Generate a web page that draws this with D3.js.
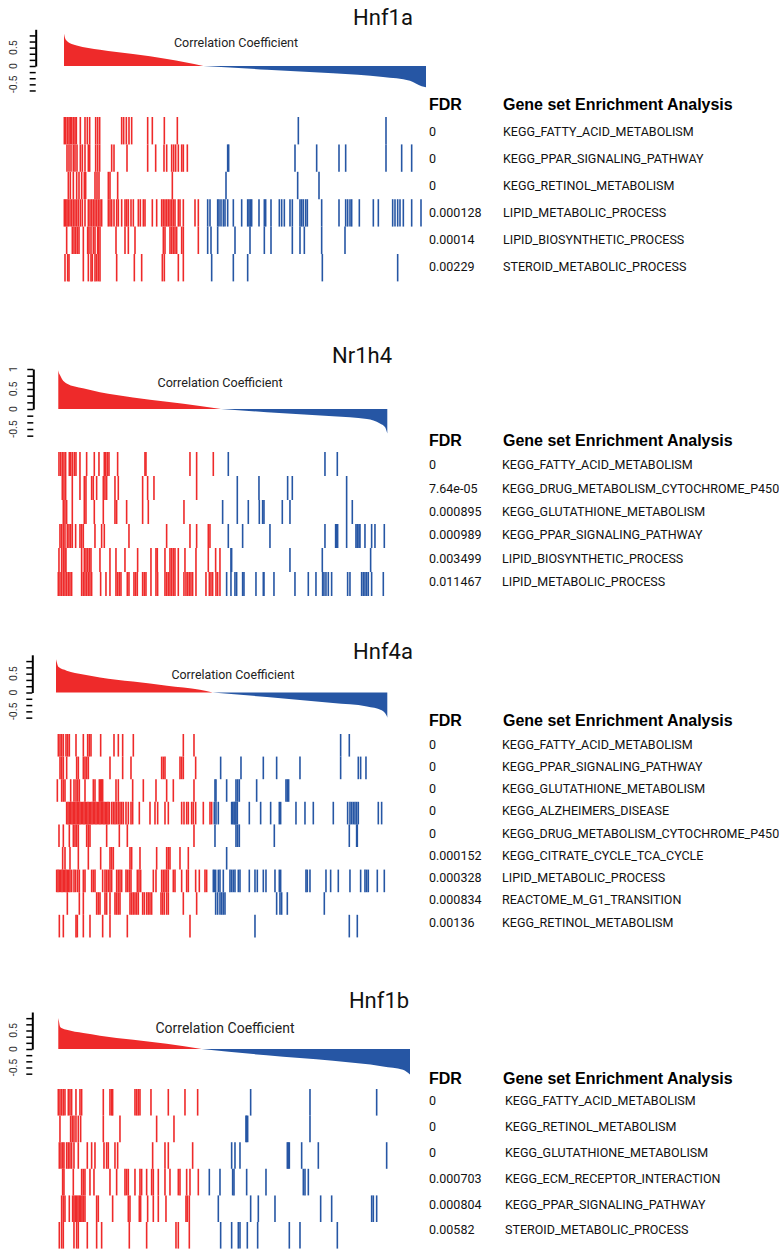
<!DOCTYPE html>
<html>
<head>
<meta charset="utf-8">
<script src="https://cdn.jsdelivr.net/npm/d3@7"></script>
<style>
  body { margin:0; background:#fff; }
  svg { display:block; }
</style>
</head>
<body>
<div id="chart"></div>
<script>
/* ---- data: ranked correlation curve [rank, coefficient] ---- */
const hnf1aCurve = [[0,0.88],[2,0.8],[4,0.74],[8,0.69],[18,0.62],[38,0.56],[108,0.44],[207,0.325],[309,0.19],[363,0.1],[418,0],[498,-0.04],[609,-0.1],[807,-0.2],[957,-0.3],[1038,-0.4],[1073,-0.55],[1086,-0.58]];
const nr1h4Curve = [[0,0.97],[2,0.9],[5,0.85],[11,0.75],[25,0.64],[74,0.52],[125,0.42],[224,0.29],[326,0.18],[425,0.075],[488,0],[626,-0.08],[824,-0.18],[926,-0.25],[965,-0.36],[980,-0.45],[987,-0.61]];
const hnf4aCurve = [[0,0.88],[3,0.78],[7,0.68],[32,0.58],[82,0.48],[132,0.4],[231,0.29],[333,0.18],[432,0.07],[470,0],[633,-0.12],[831,-0.28],[933,-0.37],[977,-0.47],[992,-0.62],[994,-0.67]];
const hnf1bCurve = [[0,0.84],[2,0.75],[5,0.61],[11,0.56],[25,0.52],[75,0.43],[125,0.36],[225,0.25],[325,0.14],[430,0],[625,-0.17],[824,-0.32],[974,-0.47],[1034,-0.56],[1055,-0.69]];

/* ---- gene sets and FDR ---- */
const hnf1aSets = ["KEGG_FATTY_ACID_METABOLISM","KEGG_PPAR_SIGNALING_PATHWAY","KEGG_RETINOL_METABOLISM","LIPID_METABOLIC_PROCESS","LIPID_BIOSYNTHETIC_PROCESS","STEROID_METABOLIC_PROCESS"];
const hnf1aFdr = ["0","0","0","0.000128","0.00014","0.00229"];
const nr1h4Sets = ["KEGG_FATTY_ACID_METABOLISM","KEGG_DRUG_METABOLISM_CYTOCHROME_P450","KEGG_GLUTATHIONE_METABOLISM","KEGG_PPAR_SIGNALING_PATHWAY","LIPID_BIOSYNTHETIC_PROCESS","LIPID_METABOLIC_PROCESS"];
const nr1h4Fdr = ["0","7.64e-05","0.000895","0.000989","0.003499","0.011467"];
const hnf4aSets = ["KEGG_FATTY_ACID_METABOLISM","KEGG_PPAR_SIGNALING_PATHWAY","KEGG_GLUTATHIONE_METABOLISM","KEGG_ALZHEIMERS_DISEASE","KEGG_DRUG_METABOLISM_CYTOCHROME_P450","KEGG_CITRATE_CYCLE_TCA_CYCLE","LIPID_METABOLIC_PROCESS","REACTOME_M_G1_TRANSITION","KEGG_RETINOL_METABOLISM"];
const hnf4aFdr = ["0","0","0","0","0","0.000152","0.000328","0.000834","0.00136"];
const hnf1bSets = ["KEGG_FATTY_ACID_METABOLISM","KEGG_RETINOL_METABOLISM","KEGG_GLUTATHIONE_METABOLISM","KEGG_ECM_RECEPTOR_INTERACTION","KEGG_PPAR_SIGNALING_PATHWAY","STEROID_METABOLIC_PROCESS"];
const hnf1bFdr = ["0","0","0","0.000703","0.000804","0.00582"];

/* ---- ranks of gene set members in the ranked list ---- */
const hnf1aHits = [
  [1,5,10,15,19,23,28,33,37,49,63,70,77,95,101,107,173,179,187,195,203,251,265,301,340,703,966],
  [9,15,21,28,33,39,49,55,63,73,77,95,101,107,143,150,189,251,275,300,308,323,329,335,343,353,358,370,491,494,693,758,825,845,966,1013,1043],
  [13,19,28,38,45,53,61,65,93,99,105,133,138,161,325,486,701,765],
  [1,5,9,13,18,23,28,33,38,43,49,55,63,73,78,83,88,93,98,103,108,113,133,138,143,150,158,163,173,183,188,193,201,208,223,229,238,243,265,278,293,298,303,308,313,318,323,328,333,343,348,358,393,403,
   431,438,461,465,471,478,483,491,508,533,551,555,559,563,585,601,605,621,646,653,661,678,685,708,713,718,725,730,773,825,845,851,858,863,886,928,943,986,993,1001,1008,1018,1043,1071],
  [8,25,30,35,40,45,58,71,75,81,88,93,101,103,108,156,183,193,213,298,303,318,323,328,333,338,353,358,403,431,441,461,513,558,601,621,685,708,721,773,843],
  [3,11,15,58,73,81,85,93,98,103,108,158,211,233,295,301,343,358,443,508,551,775,1001]
];
const nr1h4Hits = [
  [2,7,12,17,22,33,37,42,48,53,65,85,108,122,138,142,147,152,178,260,263,395,415,465,510,800,837],
  [12,17,22,42,65,78,83,100,105,115,135,140,145,170,180,253,268,287,415,537,602,688,702,865],
  [15,20,25,42,78,83,108,135,170,175,205,253,270,377,493,537,570,603,613,617,672,695,865,882],
  [5,10,15,20,27,32,37,42,52,65,70,75,110,130,138,212,325,395,415,450,455,510,553,635,800,832,835,838,865,893,897,902,905,920,940,950,978],
  [2,10,15,20,23,70,78,83,88,93,98,125,155,173,200,238,278,293,297,320,335,340,345,350,360,380,413,450,472,485,518,520,695,792,937],
  [0,5,10,15,20,25,30,35,40,70,75,80,85,90,95,100,127,143,155,173,178,183,188,207,212,227,232,237,253,258,263,278,293,298,320,325,330,335,340,345,350,360,377,383,388,393,398,403,413,443,453,458,463,473,478,485,
   505,518,530,535,553,557,593,615,617,647,710,750,773,793,797,803,810,820,868,875,910,915,920,925,930,940,975]
];
const hnf4aHits = [
  [7,12,17,22,30,35,40,60,82,95,100,105,134,174,187,200,232,382,414,854,880],
  [12,17,22,32,62,67,82,87,92,97,162,200,225,317,322,327,372,377,382,419,494,555,622,662,732,854,907,914,930],
  [4,17,22,27,44,54,60,65,70,87,112,117,130,134,137,140,180,187,230,262,300,332,352,414,477,480,512,540,545,550,602,690,694,698],
  [32,36,40,44,48,52,56,60,64,68,72,76,80,84,88,92,96,100,104,108,112,116,120,124,128,132,136,140,144,148,152,156,160,167,172,177,182,187,192,197,202,210,217,225,230,
   250,282,297,305,327,337,377,384,392,397,407,412,419,442,462,467,475,480,487,527,530,534,537,540,544,580,614,644,670,674,720,747,772,832,875,882,887,892,897,902,907,967,977],
  [9,22,40,52,57,62,67,92,97,102,152,190,214,414,477,540,545,550,655,880,902,904],
  [20,27,42,67,97,134,162,167,172,222,227,252,302,332,337,342,372,397,512],
  [2,6,10,14,18,22,26,30,34,38,42,47,54,59,65,70,82,87,107,112,117,140,147,152,157,162,167,182,187,192,197,210,215,220,225,244,249,254,292,300,317,322,327,332,337,352,357,377,392,397,419,430,447,452,
   472,475,479,487,492,502,522,527,532,537,547,552,580,597,604,622,630,657,670,674,750,754,762,810,824,847,882,914,927,932,937,964,985],
  [34,70,82,122,127,132,147,152,162,177,182,187,192,222,227,232,237,242,247,260,265,272,277,282,287,315,320,325,332,337,382,422,479,485,492,497,502,507,662,672,677,694,805],
  [10,22,60,64,82,102,140,162,214,402,597,880,904]
];
const hnf1bHits = [
  [0,5,10,15,20,30,35,40,53,65,70,135,155,160,163,230,235,240,245,278,330,380,418,577,755,955],
  [5,37,42,47,53,60,67,135,185,295,347,563,565,568,755],
  [3,8,13,17,25,30,35,40,47,60,87,100,110,137,145,150,170,178,283,320,330,403,520,530,545,687,690,693,730,780,985],
  [13,17,45,70,75,80,95,107,155,175,200,205,210,230,245,250,265,280,285,300,320,335,360,365,385,395,420,453,485,523,527,565,623,735,740,750],
  [10,15,20,33,43,47,51,55,59,63,67,71,75,80,115,120,163,210,215,243,247,268,285,300,323,383,387,393,480,577,600,650,787,820,940,945,955],
  [3,10,15,47,55,60,87,115,130,213,265,353,360,393,487,520,540,545,567,598,693,725,837]
];

/* ---- colours ---- */
const RED = "#ee2a2a", BLUE = "#2656a4";

/* ---- layout of the four panels ---- */
const panels = [
  {title:"Hnf1a", curve:hnf1aCurve, n:1086, sets:hnf1aSets, fdr:hnf1aFdr, hits:hnf1aHits, tickK:[-4,5], labels:[0.5,0,-0.5],
   x0:64, x1:426, yZero:66, yUnit:36.7, axisX:35.7, band0:117, bandH:27.4,
   headY:104, textY:132, textStep:26.9, nameX:503, titleX:383, titleY:25, ccX:236, ccY:43, ccSize:12.5},
  {title:"Nr1h4", curve:nr1h4Curve, n:987, sets:nr1h4Sets, fdr:nr1h4Fdr, hits:nr1h4Hits, tickK:[-4,6], labels:[1,0.5,0,-0.5],
   x0:58.3, x1:387.3, yZero:409, yUnit:40, axisX:33.3, band0:452, bandH:24,
   headY:440, textY:465, textStep:23.3, nameX:502, titleX:362, titleY:363, ccX:220, ccY:383, ccSize:12.6},
  {title:"Hnf4a", curve:hnf4aCurve, n:994, sets:hnf4aSets, fdr:hnf4aFdr, hits:hnf4aHits, tickK:[-4,5], labels:[0.5,0,-0.5],
   x0:56, x1:387.3, yZero:692.5, yUnit:37.7, axisX:32.3, band0:734, bandH:22.6,
   headY:720, textY:744.3, textStep:22.25, nameX:502, titleX:383, titleY:659, ccX:233, ccY:675, ccSize:12.4},
  {title:"Hnf1b", curve:hnf1bCurve, n:1055, sets:hnf1bSets, fdr:hnf1bFdr, hits:hnf1bHits, tickK:[-4,5], labels:[0.5,0,-0.5],
   x0:58.3, x1:410, yZero:1049, yUnit:37, axisX:32.3, band0:1089, bandH:26.6,
   headY:1078, textY:1101, textStep:25.8, nameX:505, titleX:379, titleY:1008, ccX:225, ccY:1028, ccSize:14}
];

const svg = d3.select("#chart").append("svg")
  .attr("width", 779).attr("height", 1249);

panels.forEach(function(p){
  const g = svg.append("g");
  const x = d3.scaleLinear().domain([0, p.n]).range([p.x0, p.x1]);
  const y = d3.scaleLinear().domain([0, 1]).range([p.yZero, p.yZero - p.yUnit]);

  // zero crossing rank splits positive / negative part
  const zeroRank = p.curve.find(d => d[1] === 0)[0];
  const pos = p.curve.filter(d => d[0] <= zeroRank);
  const neg = p.curve.filter(d => d[0] >= zeroRank);

  const area = d3.area()
    .x(d => x(d[0]))
    .y0(y(0))
    .y1(d => y(d[1]))
    .curve(d3.curveMonotoneX);

  g.append("path").datum(pos).attr("d", area).attr("fill", RED);
  g.append("path").datum(neg).attr("d", area).attr("fill", BLUE);

  // y axis, ticks every 1/6
  const tickVals = d3.range(p.tickK[0], p.tickK[1] + 1).map(k => k / 6);
  const yAxis = d3.axisLeft(y).tickValues(tickVals).tickSize(6).tickSizeOuter(0).tickFormat("");
  const ax = g.append("g").attr("transform", `translate(${p.axisX},0)`).call(yAxis);
  ax.select(".domain").attr("stroke-width", 2);
  ax.selectAll(".tick line").attr("stroke-width", 1.5);

  g.selectAll(".ylab")
    .data(p.labels)
    .enter().append("text")
    .attr("transform", d => `translate(17,${y(d)}) rotate(-90)`)
    .attr("text-anchor", "middle")
    .attr("font-family", "Roboto, sans-serif")
    .attr("font-size", 10.5)
    .attr("fill", "#333")
    .text(d => d);

  // titles
  g.append("text")
    .attr("x", p.titleX).attr("y", p.titleY)
    .attr("text-anchor", "middle")
    .attr("font-family", "Roboto, sans-serif")
    .attr("font-size", 22)
    .attr("fill", "#111")
    .text(p.title);

  g.append("text")
    .attr("x", p.ccX).attr("y", p.ccY)
    .attr("dy", "0.35em")
    .attr("text-anchor", "middle")
    .attr("font-family", "Roboto, sans-serif")
    .attr("font-size", p.ccSize)
    .attr("fill", "#222")
    .text("Correlation Coefficient");

  // barcode rows
  p.hits.forEach(function(row, i){
    const top = p.band0 + i * p.bandH;
    g.selectAll(null)
      .data(row)
      .enter().append("line")
      .attr("x1", d => x(d)).attr("x2", d => x(d))
      .attr("y1", top).attr("y2", top + p.bandH)
      .attr("stroke", d => d < zeroRank ? RED : BLUE)
      .attr("stroke-width", 1.6);
  });

  // table
  g.append("text")
    .attr("x", 429).attr("y", p.headY).attr("dy", "0.35em")
    .attr("font-family", "'Liberation Sans', Arial, sans-serif")
    .attr("font-weight", "bold").attr("font-size", 16)
    .text("FDR");
  g.append("text")
    .attr("x", 503).attr("y", p.headY).attr("dy", "0.35em")
    .attr("font-family", "'Liberation Sans', Arial, sans-serif")
    .attr("font-weight", "bold").attr("font-size", 16)
    .text("Gene set Enrichment Analysis");

  g.selectAll(".fdr")
    .data(p.fdr)
    .enter().append("text")
    .attr("x", 429).attr("y", (d, i) => p.textY + i * p.textStep).attr("dy", "0.35em")
    .attr("font-family", "Roboto, sans-serif").attr("font-size", 12.5)
    .attr("fill", "#111")
    .text(d => d);

  g.selectAll(".set")
    .data(p.sets)
    .enter().append("text")
    .attr("x", p.nameX).attr("y", (d, i) => p.textY + i * p.textStep).attr("dy", "0.35em")
    .attr("font-family", "Roboto, sans-serif").attr("font-size", 12.5)
    .attr("fill", "#111")
    .text(d => d);
});
</script>
</body>
</html>
